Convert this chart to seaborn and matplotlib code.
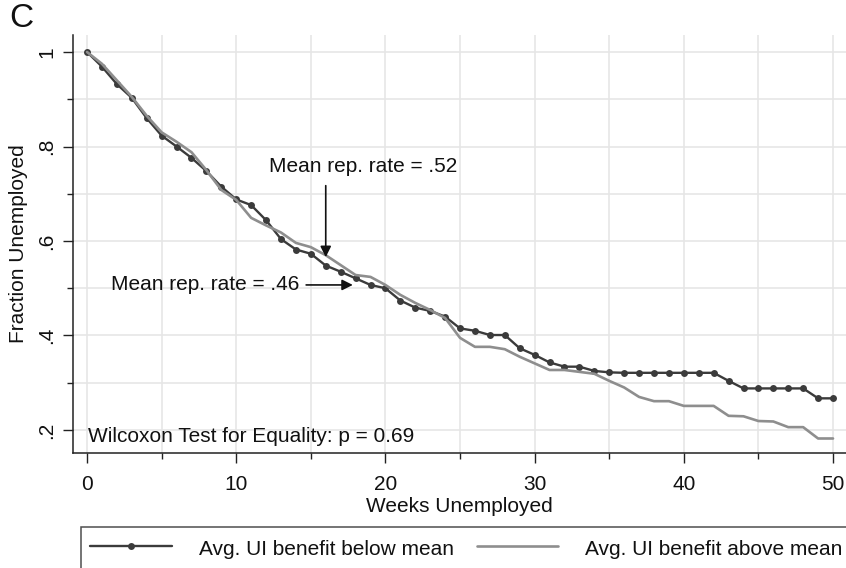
#!/usr/bin/env python3
"""Kaplan-Meier style survival curves: fraction unemployed by UI benefit group."""

import matplotlib
matplotlib.use("Agg")
import matplotlib.pyplot as plt
from matplotlib.ticker import MultipleLocator, FixedLocator
import pandas as pd
import seaborn as sns

weeks = list(range(51))

below_mean = [1.000, 0.969, 0.932, 0.903, 0.860, 0.823, 0.800, 0.776, 0.748, 0.715,
              0.688, 0.676, 0.644, 0.604, 0.582, 0.573, 0.548, 0.535, 0.521, 0.507,
              0.500, 0.474, 0.459, 0.452, 0.440, 0.415, 0.410, 0.401, 0.401, 0.373,
              0.359, 0.343, 0.334, 0.334, 0.325, 0.322, 0.321, 0.321, 0.321, 0.321,
              0.321, 0.321, 0.321, 0.304, 0.288, 0.288, 0.288, 0.288, 0.288, 0.267, 0.267]

above_mean = [1.000, 0.975, 0.940, 0.905, 0.865, 0.830, 0.810, 0.788, 0.750, 0.708,
              0.687, 0.649, 0.633, 0.618, 0.596, 0.587, 0.570, 0.549, 0.528, 0.524,
              0.507, 0.486, 0.469, 0.454, 0.437, 0.395, 0.376, 0.376, 0.371, 0.355,
              0.341, 0.327, 0.327, 0.323, 0.319, 0.304, 0.290, 0.270, 0.261, 0.261,
              0.251, 0.251, 0.251, 0.230, 0.229, 0.219, 0.218, 0.206, 0.206, 0.182, 0.182]

series_labels = ["Avg. UI benefit below mean", "Avg. UI benefit above mean"]
x_ticks = [0, 10, 20, 30, 40, 50]
y_ticks = [0.2, 0.4, 0.6, 0.8, 1.0]
y_tick_labels = [".2", ".4", ".6", ".8", "1"]

DARK = "#3b3b3b"
LIGHT = "#8e8e8e"
GRID = "#e6e6e6"
INK = "#111111"
FS = 15

sns.set_theme(style="whitegrid")
plt.rcParams["font.family"] = ["Liberation Sans", "DejaVu Sans"]

df = pd.DataFrame({"week": weeks, "below": below_mean, "above": above_mean})

fig = plt.figure(figsize=(8.46, 5.68), dpi=100)
ax = fig.add_axes([73 / 846, 1 - 453 / 568, 1 - 73 / 846, (453 - 35) / 568])

sns.lineplot(data=df, x="week", y="below", ax=ax, color=DARK, linewidth=1.7,
             marker="o", markersize=5, markeredgewidth=0, label=series_labels[0])
sns.lineplot(data=df, x="week", y="above", ax=ax, color=LIGHT, linewidth=1.9,
             label=series_labels[1])

ax.set_xlim(-0.94, 50.87)
ax.set_ylim(0.1513, 1.036)

ax.xaxis.set_major_locator(FixedLocator(x_ticks))
ax.xaxis.set_minor_locator(MultipleLocator(5))
ax.yaxis.set_major_locator(FixedLocator(y_ticks))
ax.yaxis.set_minor_locator(FixedLocator([0.3, 0.5, 0.7, 0.9]))
ax.set_yticklabels(y_tick_labels, rotation=90, va="center")

ax.grid(True, which="both", color=GRID, linewidth=1.2)
ax.set_axisbelow(True)
for side in ["top", "right"]:
    ax.spines[side].set_visible(False)
for side in ["left", "bottom"]:
    ax.spines[side].set_color("#222222")
    ax.spines[side].set_linewidth(1.1)

ax.tick_params(which="major", direction="out", length=7, width=1, color="#222222",
               labelsize=FS, labelcolor=INK, bottom=True, left=True)
ax.tick_params(which="minor", direction="out", length=4, width=1, color="#222222",
               bottom=True, left=True)
ax.tick_params(axis="x", pad=9)
ax.tick_params(axis="y", pad=5)

ax.set_xlabel("Weeks Unemployed", fontsize=FS, color=INK, labelpad=2)
ax.set_ylabel("Fraction Unemployed", fontsize=FS, color=INK, labelpad=7)

# annotations
ax.text(0.02, 0.04, "Wilcoxon Test for Equality: p = 0.69", transform=ax.transAxes,
        fontsize=FS, color=INK, ha="left", va="center")
ax.text(12.2, 0.757, "Mean rep. rate = .52", fontsize=FS, color=INK,
        ha="left", va="center")
ax.annotate("", xy=(16, 0.56), xytext=(16, 0.723),
            arrowprops=dict(arrowstyle="-|>", color=INK, lw=1.2, mutation_scale=16))
ax.text(14.2, 0.507, "Mean rep. rate = .46", fontsize=FS, color=INK,
        ha="right", va="center")
ax.annotate("", xy=(18.0, 0.507), xytext=(14.5, 0.507),
            arrowprops=dict(arrowstyle="-|>", color=INK, lw=1.2, mutation_scale=16))

# legend below the plot (bottom edge runs off the canvas like the original)
handles, labels = ax.get_legend_handles_labels()
ax.get_legend().remove()
leg = fig.legend(handles, labels, loc="upper left", bbox_to_anchor=(81 / 846, 1 - 527 / 568),
                 borderaxespad=0, ncol=2, frameon=True, fancybox=False, edgecolor="#222222",
                 handlelength=3.9, handletextpad=1.3, columnspacing=1.1,
                 borderpad=0.45, handleheight=1.4, numpoints=1, fontsize=FS)
leg.get_frame().set_linewidth(1.1)
for t in leg.get_texts():
    t.set_color(INK)

fig.text(0.011, 0.994, "C", fontsize=24, va="top", ha="left", color=INK)

fig.savefig("out.png", dpi=100)
